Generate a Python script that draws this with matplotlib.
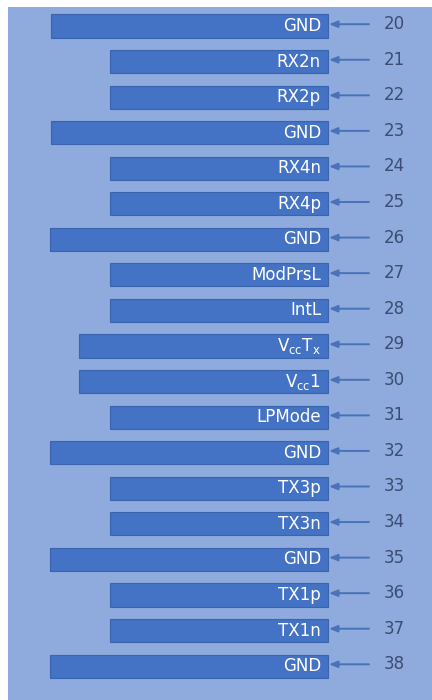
import matplotlib
matplotlib.use('Agg')
import matplotlib.pyplot as plt

# pin numbers and signal names, top to bottom
pins = [20, 21, 22, 23, 24, 25, 26, 27, 28, 29, 30, 31, 32, 33, 34, 35, 36, 37, 38]
signals = ['GND', 'RX2n', 'RX2p', 'GND', 'RX4n', 'RX4p', 'GND', 'ModPrsL', 'IntL',
           r'V$_{\mathrm{cc}}$T$_{\mathrm{x}}$', r'V$_{\mathrm{cc}}$1', 'LPMode', 'GND',
           'TX3p', 'TX3n', 'GND', 'TX1p', 'TX1n', 'GND']
# bar lengths (ground pads are longest, power pads medium)
lengths = [277, 218, 218, 277, 218, 218, 278, 218, 218, 249, 249, 218, 278,
           218, 218, 278, 218, 218, 278]

bar_color = '#4472C4'
edge_color = '#3a64ad'
panel_color = '#8FAADC'
num_color = '#3b4d72'

fig = plt.figure(figsize=(4.32, 7.0), dpi=100)
ax = fig.add_axes([8 / 432, 0, 424 / 432, 693 / 700])
ax.set_facecolor(panel_color)

ax.barh(pins, lengths, left=0, height=0.65, color=bar_color, edgecolor=edge_color, lw=0.8)

for pin, name in zip(pins, signals):
    ax.text(7, pin, name, color='white', fontsize=12, ha='right', va='center',
            family='DejaVu Sans')
    ax.annotate('', xy=(-1, pin - 0.05), xytext=(-41, pin - 0.05),
                arrowprops=dict(arrowstyle='-|>,head_length=0.5,head_width=0.2',
                                color='#4a72b8', lw=1.4, shrinkA=0, shrinkB=0))
    ax.text(-66, pin - 0.05, str(pin), color=num_color, fontsize=12, ha='center',
            va='center', family='DejaVu Sans')

ax.set_xlim(320, -104)
ax.set_ylim(38.954, 19.466)
ax.set_xticks([])
ax.set_yticks([])
for s in ax.spines.values():
    s.set_visible(False)

plt.savefig('out.png', dpi=100)
